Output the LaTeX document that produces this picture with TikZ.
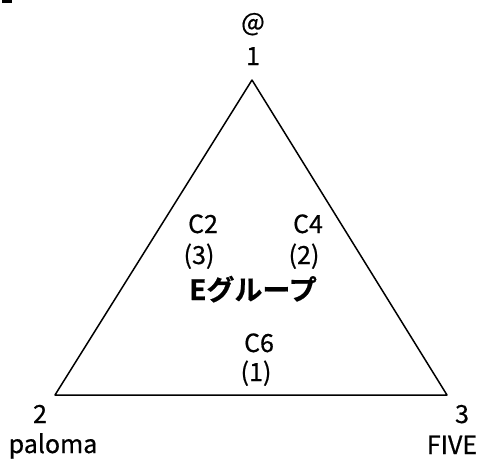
\documentclass[tikz,border=0pt]{standalone}
\usepackage{fontspec}
\setmainfont[FakeBold=0.6]{Noto Sans CJK JP}
\newfontfamily\jpbold[FakeBold=0.6]{Noto Sans CJK JP Bold}

\begin{document}
\begin{tikzpicture}[line cap=round,line join=round,x=1pt,y=-1pt,
	lbl/.style={anchor=base,inner sep=0pt,font=\fontsize{25}{25}\selectfont},
	grp/.style={anchor=base,inner sep=0pt,font=\jpbold\fontsize{28}{28}\selectfont}]
		\useasboundingbox (0,0) rectangle (483,459);
		\fill (2,0) rectangle (12,3);
		\coordinate (v1) at (252,80);
		\coordinate (v2) at (55,395);
		\coordinate (v3) at (447,395);
		\draw [line width=1.5pt] (v1)-- (v2)-- (v3)-- cycle;
		\node[lbl] (at) at (253,31) {@};
		\node[lbl] (n1) at (253,65) {1};
		\node[lbl] (n2) at (40,423) {2};
		\node[lbl] (paloma) at (53,453) {paloma};
		\node[lbl] (n3) at (462,423) {3};
		\node[lbl] (five) at (452,454) {FIVE};
		\node[lbl] (c2) at (203,233) {C2};
		\node[lbl] (r3) at (199,264) {(3)};
		\node[lbl] (c4) at (308,233) {C4};
		\node[lbl] (r2) at (304,264) {(2)};
		\node[grp] (egroup) at (253,300) {Eグループ};
		\node[lbl] (c6) at (259,352) {C6};
		\node[lbl] (r1) at (256,381) {(1)};
\end{tikzpicture}
\end{document}
